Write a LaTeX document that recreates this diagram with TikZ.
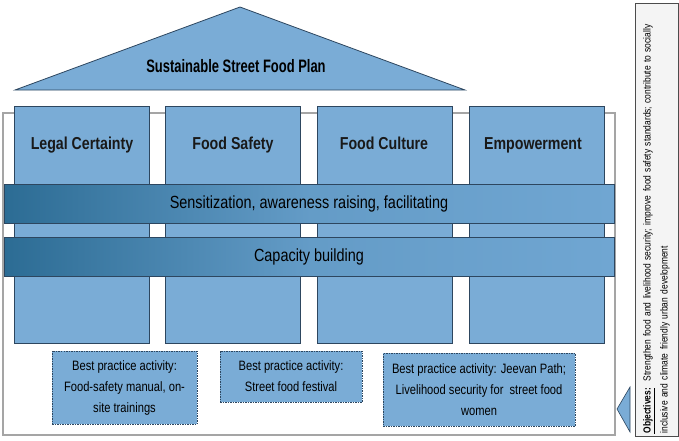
\documentclass[tikz,border=0pt]{standalone}
\usepackage{fontspec}
\setmainfont{Liberation Sans}[FakeStretch=0.82]
\newfontfamily\titlefont{Liberation Sans}[FakeStretch=0.72]
\usetikzlibrary{shapes.geometric}
\definecolor{pillarfill}{RGB}{122,172,214}
\definecolor{pillaredge}{RGB}{45,70,95}
\definecolor{banddark}{RGB}{44,108,148}
\definecolor{bandlight}{RGB}{112,166,210}
\definecolor{framegray}{RGB}{165,165,165}
\definecolor{objfill}{RGB}{244,244,244}
\tikzset{
  pillar/.style={draw=pillaredge, fill=pillarfill, line width=0.8pt, minimum width=135pt, minimum height=237pt, inner sep=0pt},
  pillarlabel/.style={font=\fontsize{17.3}{19}\selectfont\bfseries, text=black!90, text height=12.5pt, text depth=3.8pt},
  band/.style={draw=pillaredge, line width=0.8pt, left color=banddark, right color=bandlight, middle color=bandlight!82!banddark, minimum width=610pt, minimum height=39pt, inner sep=0pt, font=\fontsize{17.6}{19}\selectfont},
  practice/.style={draw=pillaredge, dashed, dash pattern=on 1.5pt off 1pt, line width=0.8pt, fill=pillarfill, inner sep=0pt, align=center, font=\fontsize{13.6}{21}\selectfont},
}
\begin{document}
\begin{tikzpicture}[x=1pt,y=-1pt]
\useasboundingbox (0,0) rectangle (679,440);
% outer frame
\draw[framegray, line width=1.2pt, fill=white] (3,113) rectangle (615,435);
% roof
\draw[pillaredge, fill=pillarfill, line width=0.8pt] (15,90) -- (240,7) -- (465,90) -- cycle;
\node[font=\titlefont\fontsize{18}{20}\selectfont\bfseries] (title) at (236,66) {Sustainable Street Food Plan};
% pillars
\node[pillar] (p1) at (81.5,224.5) {};
\node[pillar] (p2) at (232.5,224.5) {};
\node[pillar] (p3) at (384.5,224.5) {};
\node[pillar] (p4) at (536.5,224.5) {};
\node[pillarlabel] (l1) at (82,145) {Legal Certainty};
\node[pillarlabel] (l2) at (233,145) {Food Safety};
\node[pillarlabel] (l3) at (384,145) {Food Culture};
\node[pillarlabel] (l4) at (533,145) {Empowerment};
% bands
\node[band] (b1) at (309,204) {Sensitization, awareness raising, facilitating};
\node[band] (b2) at (309,257) {Capacity building};
% best practice boxes
\node[practice, minimum width=145pt, minimum height=73pt] (a1) at (124.5,387.5) {Best practice activity:\\Food-safety manual, on-\\site trainings};
\node[practice, minimum width=142pt, minimum height=51pt] (a2) at (291,376.5) {Best practice activity:\\Street food festival};
\node[practice, minimum width=192pt, minimum height=73pt] (a3) at (479,389.5) {Best practice activity: Jeevan Path;\\Livelihood security for\ \ street food\\women};
% objectives
\node[draw=black!70, fill=objfill, line width=0.8pt, rotate=90, minimum width=433pt, minimum height=43pt, text width=428pt, align=left, inner sep=2pt, font=\fontsize{10.3}{17}\selectfont] (obj) at (656.5,219.5) {\underline{\textbf{Objectives:}}\ \ Strengthen food and livelihood security; improve food safety standards; contribute to socially\\inclusive and climate friendly urban development};
% arrow triangle
\draw[pillaredge, fill=pillarfill, line width=0.6pt] (617,409) -- (630,387) -- (630,432) -- cycle;
\end{tikzpicture}
\end{document}
